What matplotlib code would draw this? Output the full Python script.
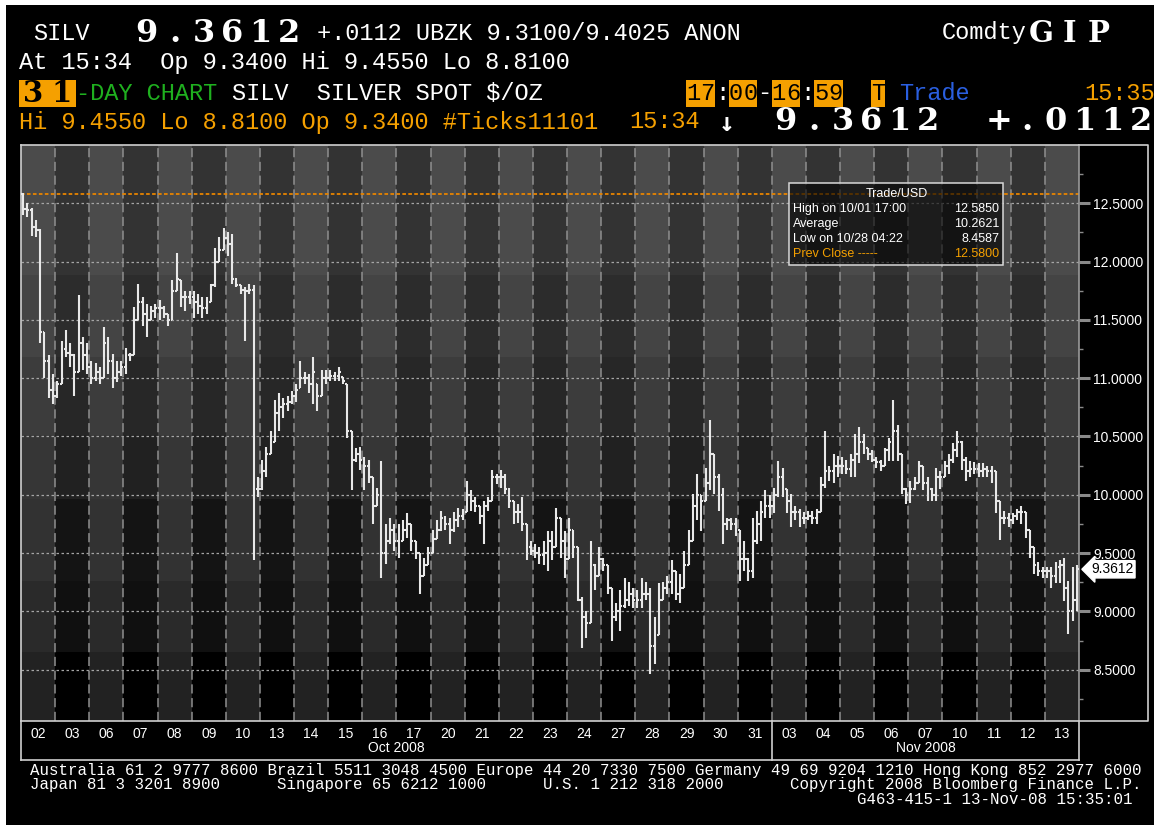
import matplotlib
matplotlib.use('Agg')
import matplotlib.pyplot as plt
from matplotlib.collections import LineCollection
from matplotlib.patches import Rectangle
import numpy as np

# ---------------- data ----------------
day_labels = ['02', '03', '06', '07', '08', '09', '10', '13', '14', '15', '16', '17', '20', '21',
              '22', '23', '24', '27', '28', '29', '30', '31',
              '03', '04', '05', '06', '07', '10', '11', '12', '13']
month_names = ['Oct 2008', 'Nov 2008']
month_start = [0, 22]
bars_per_day = 8

highs = [
    12.585, 12.50, 12.46, 12.36, 12.28, 11.40, 11.20, 11.04,
    10.98, 11.32, 11.41, 11.30, 11.21, 11.71, 11.35, 11.30,
    11.15, 11.13, 11.10, 11.44, 11.35, 11.21, 11.15, 11.15,
    11.26, 11.22, 11.61, 11.81, 11.70, 11.64, 11.62, 11.64,
    11.67, 11.62, 11.55, 11.84, 12.07, 11.84, 11.75, 11.75,
    11.75, 11.72, 11.70, 11.70, 11.81, 12.12, 12.21, 12.29,
    12.25, 12.24, 11.86, 11.80, 11.78, 11.81, 11.80, 10.15,
    10.30, 10.41, 10.55, 10.81, 10.87, 10.83, 10.85, 10.89,
    10.95, 11.15, 11.05, 11.04, 11.18, 10.95, 11.07, 11.07,
    11.07, 11.05, 11.10, 11.01, 10.95, 10.55, 10.40, 10.41,
    10.32, 10.30, 10.15, 10.06, 10.29, 9.75, 9.80, 9.75,
    9.75, 9.78, 9.84, 9.75, 9.60, 9.50, 9.46, 9.55,
    9.70, 9.78, 9.86, 9.82, 9.80, 9.85, 9.89, 9.88,
    10.12, 10.04, 9.98, 9.90, 9.95, 9.98, 10.21, 10.18,
    10.21, 10.18, 10.06, 9.95, 9.92, 9.98, 9.75, 9.60,
    9.58, 9.55, 9.60, 9.69, 9.69, 9.89, 9.80, 9.69,
    9.80, 9.70, 9.55, 9.12, 9.00, 9.60, 9.41, 9.55,
    9.46, 9.40, 9.20, 9.07, 9.18, 9.29, 9.25, 9.20,
    9.18, 9.29, 9.25, 9.20, 8.95, 9.24, 9.25, 9.30,
    9.44, 9.35, 9.32, 9.52, 9.70, 10.01, 10.18, 10.00,
    10.23, 10.64, 10.35, 10.18, 10.06, 9.80, 9.80, 9.80,
    9.70, 9.60, 9.46, 9.80, 9.86, 9.95, 10.04, 10.00,
    10.06, 10.29, 10.23, 10.05, 10.01, 9.90, 9.88, 9.85,
    9.86, 9.86, 9.88, 10.15, 10.55, 10.25, 10.35, 10.33,
    10.32, 10.30, 10.35, 10.52, 10.58, 10.52, 10.40, 10.38,
    10.32, 10.30, 10.40, 10.49, 10.81, 10.60, 10.35, 10.06,
    10.12, 10.15, 10.29, 10.25, 10.15, 10.06, 10.23, 10.20,
    10.29, 10.35, 10.44, 10.55, 10.46, 10.32, 10.29, 10.28,
    10.27, 10.27, 10.25, 10.25, 10.20, 9.95, 9.86, 9.84,
    9.84, 9.88, 9.90, 9.85, 9.70, 9.55, 9.42, 9.38,
    9.38, 9.38, 9.42, 9.44, 9.455, 9.26, 9.38, 9.40,
]
lows = [
    12.40, 12.38, 12.22, 12.21, 11.30, 11.00, 10.83, 10.78,
    10.83, 10.95, 11.18, 11.10, 10.85, 11.05, 11.07, 11.04,
    10.95, 10.98, 10.95, 11.00, 11.04, 10.92, 10.97, 11.02,
    11.04, 11.15, 11.20, 11.50, 11.45, 11.35, 11.50, 11.52,
    11.50, 11.52, 11.45, 11.50, 11.75, 11.61, 11.58, 11.64,
    11.52, 11.55, 11.52, 11.55, 11.65, 11.78, 12.00, 12.10,
    12.05, 11.81, 11.78, 11.72, 11.32, 11.72, 9.44, 9.98,
    10.04, 10.15, 10.35, 10.45, 10.55, 10.66, 10.72, 10.78,
    10.80, 10.92, 10.95, 10.87, 10.78, 10.72, 10.85, 10.95,
    10.98, 10.98, 10.98, 10.95, 10.49, 10.04, 10.28, 10.21,
    10.04, 10.10, 9.75, 9.90, 9.29, 9.41, 9.58, 9.52,
    9.46, 9.60, 9.63, 9.52, 9.45, 9.15, 9.30, 9.40,
    9.50, 9.62, 9.69, 9.70, 9.58, 9.68, 9.72, 9.78,
    9.85, 9.86, 9.85, 9.75, 9.58, 9.86, 9.95, 10.09,
    10.06, 10.01, 9.89, 9.75, 9.76, 9.69, 9.44, 9.48,
    9.46, 9.41, 9.40, 9.35, 9.44, 9.55, 9.46, 9.29,
    9.45, 9.46, 9.09, 8.69, 8.77, 8.90, 9.18, 9.30,
    9.35, 9.15, 8.75, 8.92, 8.83, 9.03, 9.05, 9.03,
    9.03, 9.03, 9.10, 8.46, 8.55, 8.80, 9.10, 9.15,
    9.15, 9.10, 9.07, 9.20, 9.40, 9.60, 9.78, 9.69,
    9.95, 10.04, 10.01, 9.86, 9.58, 9.70, 9.70, 9.65,
    9.26, 9.35, 9.26, 9.29, 9.58, 9.60, 9.80, 9.80,
    9.84, 9.98, 9.98, 9.84, 9.72, 9.78, 9.72, 9.75,
    9.78, 9.75, 9.75, 9.85, 10.06, 10.12, 10.10, 10.15,
    10.18, 10.18, 10.15, 10.15, 10.27, 10.35, 10.30, 10.28,
    10.23, 10.20, 10.25, 10.29, 10.29, 10.29, 10.01, 9.92,
    9.93, 10.04, 10.10, 10.04, 9.95, 9.95, 9.95, 10.05,
    10.15, 10.18, 10.27, 10.32, 10.21, 10.12, 10.15, 10.18,
    10.15, 10.15, 10.15, 10.10, 9.84, 9.61, 9.75, 9.72,
    9.75, 9.78, 9.75, 9.63, 9.46, 9.32, 9.30, 9.29,
    9.29, 9.20, 9.24, 9.24, 9.09, 8.81, 8.92, 9.00,
]
closes = [
    12.45, 12.44, 12.30, 12.27, 11.40, 11.15, 10.90, 10.85,
    10.95, 11.25, 11.22, 11.20, 11.05, 11.30, 11.20, 11.10,
    11.00, 11.05, 11.00, 11.30, 11.15, 11.00, 11.05, 11.10,
    11.20, 11.20, 11.50, 11.65, 11.55, 11.50, 11.58, 11.60,
    11.60, 11.55, 11.50, 11.75, 11.85, 11.70, 11.70, 11.70,
    11.65, 11.62, 11.60, 11.65, 11.80, 12.00, 12.10, 12.20,
    12.15, 11.85, 11.80, 11.76, 11.75, 11.76, 10.05, 10.05,
    10.20, 10.35, 10.45, 10.70, 10.75, 10.78, 10.80, 10.85,
    10.90, 11.00, 11.00, 10.95, 11.05, 10.85, 11.00, 11.00,
    11.02, 11.02, 11.05, 10.98, 10.55, 10.30, 10.35, 10.30,
    10.25, 10.15, 9.90, 10.00, 9.50, 9.60, 9.70, 9.60,
    9.60, 9.70, 9.75, 9.60, 9.50, 9.30, 9.40, 9.50,
    9.62, 9.70, 9.80, 9.75, 9.70, 9.78, 9.82, 9.85,
    10.00, 9.95, 9.90, 9.82, 9.90, 9.95, 10.15, 10.15,
    10.15, 10.05, 9.95, 9.85, 9.85, 9.75, 9.55, 9.52,
    9.50, 9.48, 9.50, 9.60, 9.55, 9.80, 9.60, 9.45,
    9.70, 9.55, 9.10, 8.95, 8.90, 9.40, 9.30, 9.45,
    9.40, 9.20, 8.95, 9.00, 9.05, 9.10, 9.15, 9.10,
    9.10, 9.15, 9.15, 8.70, 8.80, 9.10, 9.20, 9.25,
    9.35, 9.15, 9.20, 9.40, 9.60, 9.90, 10.00, 9.95,
    10.10, 10.35, 10.15, 10.00, 9.75, 9.78, 9.75, 9.70,
    9.45, 9.45, 9.35, 9.60, 9.75, 9.85, 9.90, 9.90,
    10.00, 10.15, 10.05, 9.95, 9.85, 9.85, 9.80, 9.80,
    9.82, 9.80, 9.85, 10.08, 10.20, 10.20, 10.25, 10.25,
    10.25, 10.22, 10.30, 10.35, 10.45, 10.40, 10.35, 10.30,
    10.28, 10.25, 10.38, 10.45, 10.55, 10.35, 10.05, 10.00,
    10.05, 10.10, 10.25, 10.10, 10.05, 10.00, 10.15, 10.15,
    10.25, 10.30, 10.38, 10.45, 10.30, 10.20, 10.22, 10.22,
    10.20, 10.22, 10.20, 10.20, 9.95, 9.80, 9.80, 9.78,
    9.82, 9.85, 9.85, 9.70, 9.55, 9.40, 9.35, 9.35,
    9.35, 9.30, 9.38, 9.40, 9.20, 9.00, 9.10, 9.3612,
]
first_open = 12.58
prev_close = 12.58
last_price = 9.3612
price_ticks = [8.5, 9.0, 9.5, 10.0, 10.5, 11.0, 11.5, 12.0, 12.5]
y_min, y_max = 8.06, 13.0

legend_title = 'Trade/USD'
legend_rows = [('High on 10/01 17:00', '12.5850'),
               ('Average', '10.2621'),
               ('Low on 10/28 04:22', '8.4587')]
legend_prev = ('Prev Close -----', '12.5800')

# background shading bands (style)
band_edges = [13.0, 11.885, 11.18, 10.51, 9.96, 9.26, 8.65, 8.06]
light_cols = ['#4b4b4b', '#444444', '#3c3c3c', '#363636', '#323232', '#2a2a2a', '#222222']
dark_cols = ['#333333', '#2c2c2c', '#272727', '#212121', '#141414', '#101010', '#000000']

ORANGE = '#f5a000'
GREEN = '#1fb01f'
BLUE = '#2a5fe0'
FRAME = '#cfcfcf'

plt.rcParams['font.family'] = ['Liberation Sans', 'DejaVu Sans']

W, H = 1154, 825
fig = plt.figure(figsize=(W / 100, H / 100), dpi=100, facecolor='white')

bg = fig.add_axes([0, 0, 1, 1], zorder=0)
bg.set_xlim(0, W)
bg.set_ylim(H, 0)
bg.axis('off')
bg.add_patch(Rectangle((6, 5), W - 6, H - 5, color='black', lw=0))

# ---------------- main chart ----------------
L, R, T, B = 21, 1079, 145, 721
ax = fig.add_axes([L / W, 1 - B / H, (R - L) / W, (B - T) / H], zorder=2)
ax.set_facecolor('none')
ndays = len(day_labels)
ax.set_xlim(0, ndays)
ax.set_ylim(y_min, y_max)

for c in range(ndays):
    cols = light_cols if c % 2 == 0 else dark_cols
    for b in range(len(band_edges) - 1):
        ax.add_patch(Rectangle((c, band_edges[b + 1]), 1, band_edges[b] - band_edges[b + 1],
                               color=cols[b], lw=0, zorder=0))

ax.hlines(price_ticks, 0, ndays, colors='#a5a5a5', linestyles=(0, (2, 2)), lw=0.9, zorder=1)
ax.vlines(np.arange(1, ndays), y_min, y_max, colors='#8f8f8f', linestyles=(0, (6, 3)), lw=1.1, zorder=1)
ax.axhline(prev_close, color='#e88400', ls=(0, (2, 1.3)), lw=1.3, zorder=2)

n = len(closes)
bpd = bars_per_day
xs = np.array([(i // bpd) + ((i % bpd) + 0.5) / bpd for i in range(n)])
opens = [first_open] + closes[:-1]
dx = 0.45 / bpd
segs = []
for xi, h, l, o, c in zip(xs, highs, lows, opens, closes):
    o = min(max(o, l), h)
    c = min(max(c, l), h)
    segs.append([(xi, l), (xi, h)])
    segs.append([(xi - dx, o), (xi, o)])
    segs.append([(xi, c), (xi + dx, c)])
ax.add_collection(LineCollection(segs, colors='#e8e8e8', linewidths=1.5, zorder=4))

# axes styling
for s in ['left', 'top', 'bottom']:
    ax.spines[s].set_color(FRAME)
    ax.spines[s].set_linewidth(1.2)
ax.spines['right'].set_color('#9a9a9a')
ax.spines['right'].set_linewidth(1.2)

ax.yaxis.tick_right()
ax.set_yticks(price_ticks)
ax.set_yticklabels([f'{v:.4f}' for v in price_ticks])
minor = [(a + b) / 2 for a, b in zip(price_ticks[:-1], price_ticks[1:])]
minor = [price_ticks[0] - 0.25] + minor + [price_ticks[-1] + 0.25]
ax.set_yticks(minor, minor=True)
ax.tick_params(axis='y', which='major', length=8, width=2.2, color='#8a8a8a',
               labelcolor='white', labelsize=10, pad=2)
ax.tick_params(axis='y', which='minor', length=3, width=1, color='#8a8a8a')

ax.set_xticks(np.arange(ndays) + 0.5)
ax.set_xticklabels(day_labels)
ax.tick_params(axis='x', which='both', length=0, labelcolor='white', labelsize=10, pad=4)

xt = ax.get_xaxis_transform()
box_bottom = -(760 - B) / (B - T)
month_y = -(748 - B) / (B - T)
month_end = month_start[1:] + [ndays]
for name, s, e in zip(month_names, month_start, month_end):
    ax.text((s + e) / 2, month_y, name, transform=xt, ha='center', va='center',
            color='white', fontsize=10, clip_on=False)
ax.plot([0, ndays], [box_bottom, box_bottom], transform=xt, color=FRAME, lw=1.2, clip_on=False)
ax.plot([0, 0], [0, box_bottom], transform=xt, color=FRAME, lw=1.2, clip_on=False)
ax.plot([ndays, ndays], [0, box_bottom], transform=xt, color=FRAME, lw=1.2, clip_on=False)
for s in month_start[1:]:
    ax.plot([s, s], [0, box_bottom], transform=xt, color=FRAME, lw=1.2, clip_on=False)

ax.annotate(f'{last_price:.4f}', xy=(1.0, last_price), xycoords=('axes fraction', 'data'),
            xytext=(12, 0), textcoords='offset pixels', ha='left', va='center',
            fontsize=10, color='black', annotation_clip=False,
            bbox=dict(boxstyle='larrow,pad=0.12', fc='white', ec='white'))

# right axis frame
bg.plot([R, 1148, 1148, R], [T, T, B, B], color=FRAME, lw=1.2)

# ---------------- overlay (legend box) ----------------
fg = fig.add_axes([0, 0, 1, 1], zorder=5)
fg.set_xlim(0, W)
fg.set_ylim(H, 0)
fg.axis('off')
fg.patch.set_alpha(0)
fg.add_patch(Rectangle((789, 183), 214, 82, fc=(0, 0, 0, 0.62), ec='#d8d8d8', lw=1.1))
fg.text(897, 194, legend_title, color='white', fontsize=9, ha='center', va='center')
for i, (lab, val) in enumerate(legend_rows):
    yy = 209 + i * 15
    fg.text(793, yy, lab, color='white', fontsize=9, ha='left', va='center')
    fg.text(999, yy, val, color='white', fontsize=9, ha='right', va='center')
fg.text(793, 254, legend_prev[0], color=ORANGE, fontsize=9, ha='left', va='center')
fg.text(999, 254, legend_prev[1], color=ORANGE, fontsize=9, ha='right', va='center')

# ---------------- header ----------------
CW, CX0 = 14.2, 19
MONO = ['Liberation Mono', 'DejaVu Sans Mono']


def colx(c):
    return CX0 + c * CW


def mtext(col, y, s, color='white'):
    bg.text(colx(col), y, s, color=color, family=MONO, fontsize=17, ha='left', va='center')


def big(col, y, s, color='white', size=23):
    for i, ch in enumerate(s):
        bg.text(colx(col + 2 * i) + CW, y, ch, color=color, family=['DejaVu Serif'],
                fontweight='bold', fontsize=size, ha='center', va='center')


def obox(c0, c1, y0=80, y1=107):
    bg.add_patch(Rectangle((colx(c0), y0), colx(c1) - colx(c0), y1 - y0, color=ORANGE, lw=0))


# line 1
mtext(1, 33, 'SILV')
big(8, 33, '9.3612')
mtext(21, 33, '+.0112 UBZK 9.3100/9.4025 ANON')
mtext(65, 33, 'Comdty')
big(71, 33, 'GIP', size=21)
# line 2
mtext(0, 63, 'At 15:34  Op 9.3400 Hi 9.4550 Lo 8.8100')
# line 3
obox(0, 4)
big(0, 93, '31', color='black', size=21)
mtext(4, 93, '-DAY CHART', color=GREEN)
mtext(15, 93, 'SILV  SILVER SPOT $/OZ')
for c0 in (47, 50, 53, 56):
    obox(c0, c0 + 2)
obox(60, 61)
for i, ch in enumerate('17:00-16:59'):
    mtext(47 + i, 93, ch, color='black' if ch.isdigit() else 'white')
mtext(60, 93, 'T', color='black')
mtext(62, 93, 'Trade', color=BLUE)
mtext(75, 93, '15:35', color=ORANGE)
# line 4
mtext(0, 122, 'Hi 9.4550 Lo 8.8100 Op 9.3400 #Ticks11101', color=ORANGE)
mtext(43, 122, '15:34', color=ORANGE)
bg.text(colx(49) + 4, 124, '\u2193', color='white', family=['DejaVu Sans Mono'],
        fontweight='bold', fontsize=19, ha='left', va='center')
big(53, 122, '9.3612')
big(68, 122, '+.0112')

# ---------------- footer ----------------
FX0, FCW = 30, 9.4
foot1 = 'Australia 61 2 9777 8600 Brazil 5511 3048 4500 Europe 44 20 7330 7500 Germany 49 69 9204 1210 Hong Kong 852 2977 6000'
foot2 = ('Japan 81 3 3201 8900'.ljust(26) + 'Singapore 65 6212 1000'.ljust(28)
         + 'U.S. 1 212 318 2000'.ljust(26) + 'Copyright 2008 Bloomberg Finance L.P.')
foot3 = 'G463-415-1 13-Nov-08 15:35:01'
for yy, s, c0 in [(770, foot1, 0), (785, foot2, 0), (800, foot3, 117 - len(foot3))]:
    bg.text(FX0 + c0 * FCW, yy, s, color='white', family=MONO, fontsize=11.3, ha='left', va='center')

fig.savefig('out.png', dpi=100, facecolor=fig.get_facecolor())
